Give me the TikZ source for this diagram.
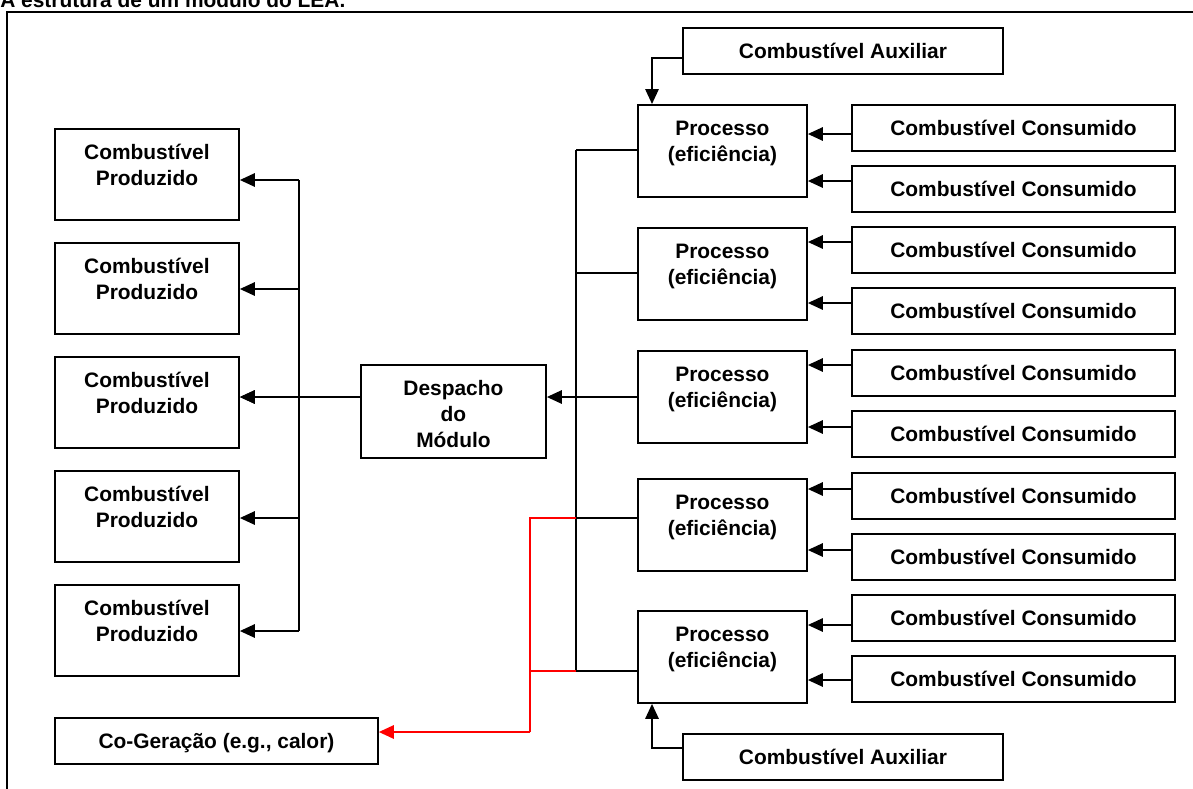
\documentclass[tikz,border=0pt]{standalone}
\usepackage{fontspec}
\setmainfont{Liberation Sans}
\usetikzlibrary{arrows.meta}
\newcommand\boxtxt[1]{\begin{tabular}[t]{@{}c@{}}#1\end{tabular}}
\tikzset{
  txt/.style={font=\fontsize{11.9}{14.8}\selectfont\bfseries},
  bx/.style={draw, line width=1.1pt, inner sep=0pt, anchor=north west, text height=0.62cm, txt},
  prod/.style={bx, minimum width=3.68cm, text depth=1.2cm},
  cons/.style={bx, minimum width=6.46cm, text depth=0.3cm},
  proc/.style={bx, minimum width=3.38cm, text depth=1.22cm},
  desp/.style={bx, minimum width=3.7cm, text depth=1.24cm},
  aux/.style={bx, minimum width=6.4cm, text depth=0.3cm},
  cogen/.style={bx, minimum width=6.46cm, text depth=0.3cm},
  conn/.style={line width=0.85pt},
  arr/.style={conn, -{Triangle[length=0.3cm, width=0.27cm]}},
  redc/.style={conn, draw=red},
  redarr/.style={arr, draw=red, fill=red},
}
\begin{document}
\begin{tikzpicture}[x=0.02cm, y=-0.02cm]
\clip (0,0) rectangle (1193,788);
\useasboundingbox (0,0) rectangle (1193,788);
% title (cut off at the top)
\node[anchor=base west, inner sep=0pt, font=\fontsize{11.9}{14.8}\selectfont\bfseries] (title) at (0,7) {A estrutura de um módulo do LEA.};
% frame
\draw[line width=1.1pt] (7,800) -- (7,12) -- (1200,12);
% left boxes
\node[prod] (p1) at (54,128) {\boxtxt{Combustível\\Produzido}};
\node[prod] (p2) at (54,242) {\boxtxt{Combustível\\Produzido}};
\node[prod] (p3) at (54,356) {\boxtxt{Combustível\\Produzido}};
\node[prod] (p4) at (54,470) {\boxtxt{Combustível\\Produzido}};
\node[prod] (p5) at (54,584) {\boxtxt{Combustível\\Produzido}};
\node[cogen] (cg) at (54,717) {\boxtxt{Co-Geração (e.g., calor)}};
% dispatch
\node[desp] (dm) at (360,364) {\boxtxt{Despacho\\do\\Módulo}};
% processes
\node[proc] (q1) at (637,104) {\boxtxt{Processo\\(eficiência)}};
\node[proc] (q2) at (637,227) {\boxtxt{Processo\\(eficiência)}};
\node[proc] (q3) at (637,350) {\boxtxt{Processo\\(eficiência)}};
\node[proc] (q4) at (637,478) {\boxtxt{Processo\\(eficiência)}};
\node[proc] (q5) at (637,610) {\boxtxt{Processo\\(eficiência)}};
% auxiliary fuels
\node[aux] (at) at (682,27) {\boxtxt{Combustível Auxiliar}};
\node[aux] (ab) at (682,733) {\boxtxt{Combustível Auxiliar}};
% consumed fuels
\node[cons] (c1a) at (851,104) {\boxtxt{Combustível Consumido}};
\node[cons] (c1b) at (851,165) {\boxtxt{Combustível Consumido}};
\node[cons] (c2a) at (851,226) {\boxtxt{Combustível Consumido}};
\node[cons] (c2b) at (851,287) {\boxtxt{Combustível Consumido}};
\node[cons] (c3a) at (851,349) {\boxtxt{Combustível Consumido}};
\node[cons] (c3b) at (851,410) {\boxtxt{Combustível Consumido}};
\node[cons] (c4a) at (851,472) {\boxtxt{Combustível Consumido}};
\node[cons] (c4b) at (851,533) {\boxtxt{Combustível Consumido}};
\node[cons] (c5a) at (851,594) {\boxtxt{Combustível Consumido}};
\node[cons] (c5b) at (851,655) {\boxtxt{Combustível Consumido}};
% left bus
\coordinate (lb1) at (299,180);
\coordinate (lb2) at (299,289);
\coordinate (lb3) at (299,397);
\coordinate (lb4) at (299,518);
\coordinate (lb5) at (299,631);
\draw[conn] (lb1) -- (lb5);
\foreach \i in {1,...,5} \draw[arr] (lb\i) -- (lb\i -| p\i.east);
% dispatch to left
\draw[arr] (dm.west |- lb3) -- (p3.east |- lb3);
% right bus
\coordinate (rb1) at (576,150);
\coordinate (rb2) at (576,273);
\coordinate (rb3) at (576,397);
\coordinate (rb4) at (576,518);
\coordinate (rb5) at (576,671);
\draw[conn] (rb1) -- (rb5);
\foreach \i in {1,...,5} \draw[conn] (rb\i) -- (rb\i -| q\i.west);
\draw[arr] (rb3) -- (rb3 -| dm.east);
% co-generation (red)
\coordinate (rd1) at (530,518);
\coordinate (rd2) at (530,671);
\coordinate (rd3) at (530,732);
\draw[redc] (rb4) -- (rd1) -- (rd3);
\draw[redc] (rb5) -- (rd2);
\draw[redarr] (rd3) -- (rd3 -| cg.east);
% auxiliary arrows
\coordinate (ta) at (652,58);
\coordinate (ba) at (652,748);
\draw[arr] (at.west |- ta) -- (ta) -- (ta |- q1.north);
\draw[arr] (ab.west |- ba) -- (ba) -- (ba |- q5.south);
% consumed arrows
\draw[arr] (c1a.west |- 0,134) -- (q1.east |- 0,134);
\draw[arr] (c1b.west |- 0,181) -- (q1.east |- 0,181);
\draw[arr] (c2a.west |- 0,242) -- (q2.east |- 0,242);
\draw[arr] (c2b.west |- 0,303) -- (q2.east |- 0,303);
\draw[arr] (c3a.west |- 0,365) -- (q3.east |- 0,365);
\draw[arr] (c3b.west |- 0,427) -- (q3.east |- 0,427);
\draw[arr] (c4a.west |- 0,489) -- (q4.east |- 0,489);
\draw[arr] (c4b.west |- 0,550) -- (q4.east |- 0,550);
\draw[arr] (c5a.west |- 0,625) -- (q5.east |- 0,625);
\draw[arr] (c5b.west |- 0,680) -- (q5.east |- 0,680);
\end{tikzpicture}
\end{document}
